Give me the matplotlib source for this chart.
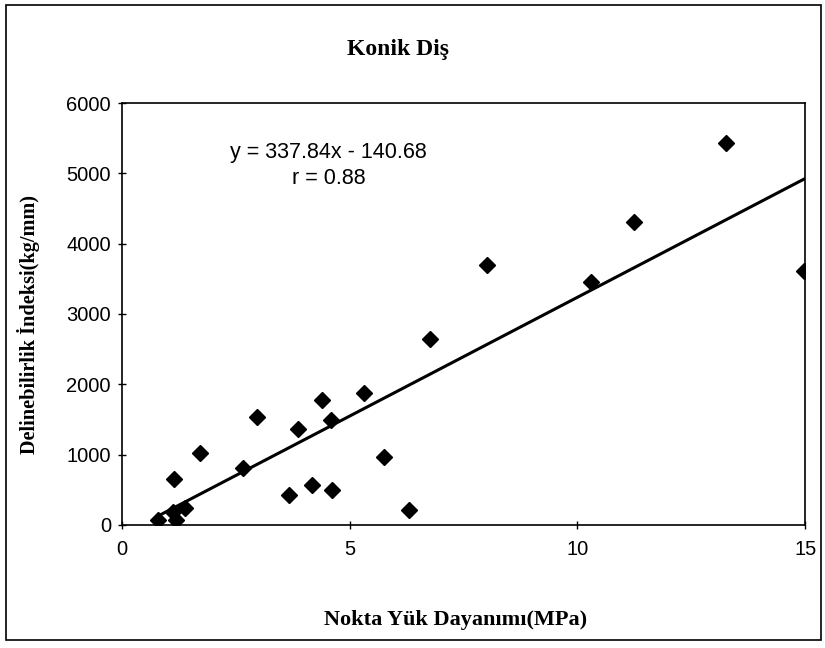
import numpy as np
import matplotlib.pyplot as plt
from matplotlib.patches import Rectangle

# point load strength (MPa) vs drillability index (kg/mm)
nokta = [0.79, 1.12, 1.19, 1.38, 1.15, 1.72, 2.65, 2.96, 3.66, 3.86, 4.17,
         4.39, 4.58, 4.61, 5.31, 5.75, 6.30, 6.76, 8.02, 10.30, 11.24, 13.27, 14.97]
indeks = [71, 189, 71, 238, 654, 1019, 807, 1541, 427, 1366, 569,
          1778, 1494, 498, 1873, 963, 213, 2646, 3698, 3461, 4306, 5438, 3613]

slope = 337.84
intercept = -140.68
r_value = 0.88

fig = plt.figure(figsize=(8.25, 6.48), dpi=100)
ax = fig.add_axes([0.148, 0.190, 0.828, 0.651])

ax.plot(nokta, indeks, 'D', color='black', markersize=8, zorder=3)

xs = np.array([min(nokta), max(nokta)])
ax.plot(xs, slope * xs + intercept, color='black', linewidth=2.2)

ax.set_xlim(0, 15)
ax.set_ylim(0, 6000)
ax.set_xticks([0, 5, 10, 15])
ax.set_yticks(range(0, 6001, 1000))
ax.tick_params(direction='inout', length=6, width=1, labelsize=14.5, pad=5)
ax.tick_params(axis='x', pad=8)
for lab in ax.get_xticklabels() + ax.get_yticklabels():
    lab.set_family('Liberation Sans')
for sp in ax.spines.values():
    sp.set_linewidth(1.2)

ax.text(0.302, 0.852, 'y = 337.84x - 140.68\nr = %.2f' % r_value,
        transform=ax.transAxes, ha='center', va='center', fontsize=15.5,
        family='Liberation Sans', linespacing=1.3)

fig.text(0.483, 0.923, 'Konik Diş', ha='center', va='center', fontsize=17,
         fontweight='bold', family='Liberation Serif')
fig.text(0.552, 0.043, 'Nokta Yük Dayanımı(MPa)', ha='center', va='center',
         fontsize=16, fontweight='bold', family='Liberation Serif')
fig.text(0.035, 0.50, 'Delinebilirlik İndeksi(kg/mm)', ha='center', va='center',
         rotation=90, fontsize=14.6, fontweight='bold', family='Liberation Serif')

# outer frame around the whole chart
fig.patches.append(Rectangle((0.007, 0.012), 0.988, 0.98, transform=fig.transFigure,
                             fill=False, edgecolor='black', linewidth=1.2))

fig.savefig('out.png', dpi=100, facecolor='white')
